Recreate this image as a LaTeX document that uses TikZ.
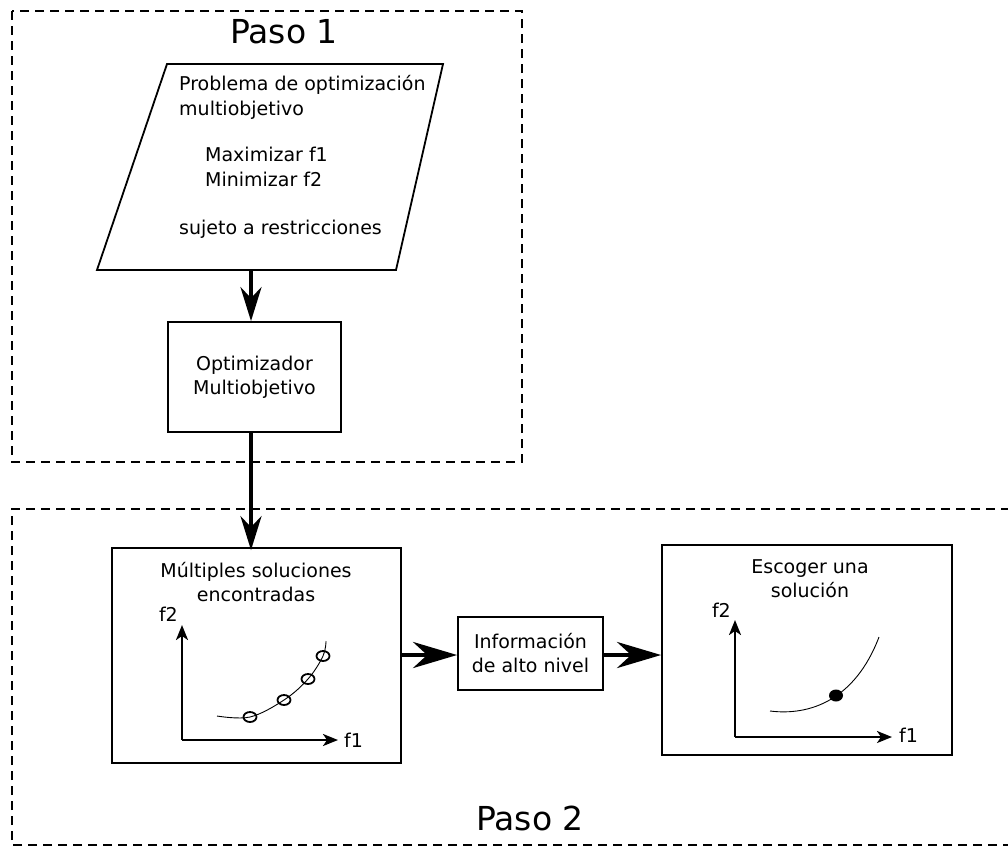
\documentclass[tikz,border=0pt]{standalone}
\usepackage{fontspec}
\setmainfont{DejaVu Sans}
\usetikzlibrary{arrows.meta}

\tikzset{
  stage/.style={draw, line width=1.6pt, dash pattern=on 9pt off 6pt},
  block/.style={draw, line width=1.8pt, inner sep=0pt},
  txt/.style={font=\fontsize{19}{24}\selectfont, inner sep=0pt},
  title/.style={font=\fontsize{33}{38}\selectfont, inner sep=0pt},
  flow/.style={line width=4pt, -{Stealth[length=34pt,width=21pt,inset=11pt]}},
  fat/.style={line width=4.5pt, -{Stealth[length=44pt,width=26pt,inset=14pt]}},
  axis/.style={line width=2.3pt, -{Stealth[length=15pt,width=12pt,inset=4pt]}},
  curve/.style={line width=0.9pt},
}

\begin{document}
\begin{tikzpicture}[x=1pt, y=-1pt]
\useasboundingbox (0,0) rectangle (1008,846);

% --- stage frames ---------------------------------------------------
\draw[stage] (12,11) rectangle (522,462);
\draw[stage] (1012,845) -- (12,845) -- (12,509) -- (1012,509);
\node[title] (paso1) at (284,32) {Paso 1};
\node[title] (paso2) at (530,818) {Paso 2};

% --- problem statement (input parallelogram) ------------------------
\coordinate (ptl) at (167,64);
\coordinate (ptr) at (443,64);
\coordinate (pbr) at (396,270);
\coordinate (pbl) at (97,270);
\coordinate (pbot) at (251,270);
\draw[line width=1.8pt, line join=miter] (ptl) -- (ptr) -- (pbr) -- (pbl) -- cycle;
\node[txt, anchor=base west] (l1) at (179,90)  {Problema de optimización};
\node[txt, anchor=base west] (l2) at (179,115) {multiobjetivo};
\node[txt, anchor=base west] (l3) at (205,161) {Maximizar f1};
\node[txt, anchor=base west] (l4) at (205,186) {Minimizar f2};
\node[txt, anchor=base west] (l5) at (179,234) {sujeto a restricciones};

% --- optimiser ------------------------------------------------------
\node[block, txt, align=center, minimum width=173pt, minimum height=110pt]
  (opt) at (254.5,377) {Optimizador\\Multiobjetivo};

% --- step 2 blocks --------------------------------------------------
\node[block, minimum width=289pt, minimum height=215pt] (sol) at (256.5,655.5) {};
\node[txt, align=center] (soltxt) at (256,582) {Múltiples soluciones\\encontradas};

\node[block, txt, align=center, minimum width=145pt, minimum height=73pt]
  (info) at (530.5,653.5) {Información\\de alto nivel};

\node[block, minimum width=290pt, minimum height=210pt] (pick) at (807,650) {};
\node[txt, align=center] (picktxt) at (810,579) {Escoger una\\solución};

% --- flow arrows ----------------------------------------------------
\draw[flow] (pbot) -- (pbot |- opt.north);
\draw[flow] (opt.south -| pbot) -- ([yshift=-3pt]pbot |- sol.north);
\draw[fat] (sol.east |- 0,655) -- (info.west |- 0,655);
\draw[fat] (info.east |- 0,655) -- (pick.west |- 0,655);

% --- front with several solutions -----------------------------------
\coordinate (o1) at (182,740);
\coordinate (y1) at (182,625);
\coordinate (x1) at (338,740);
\draw[axis] (o1) -- (y1);
\draw[axis] (o1) -- (x1);
\node[txt, anchor=base east] (f2a) at (178,621) {f2};
\node[txt, anchor=west] (f1a) at (344,740) {f1};
\draw[curve] plot[smooth, tension=0.6] coordinates
  {(217,716) (250,717) (284,700) (308,679) (323,656) (326,641)};
\foreach \p in {(250,717),(284,700),(308,679),(323,656)}
  \draw[line width=1.8pt] \p ellipse[x radius=6.5pt, y radius=5pt];

% --- chosen solution ------------------------------------------------
\coordinate (o2) at (735,737);
\coordinate (y2) at (735,620);
\coordinate (x2) at (892,737);
\draw[axis] (o2) -- (y2);
\draw[axis] (o2) -- (x2);
\node[txt, anchor=base east] (f2b) at (731,617) {f2};
\node[txt, anchor=west] (f1b) at (899,735) {f1};
\coordinate (c0) at (770,711);
\coordinate (c1) at (879,637);
\draw[curve] (c0) .. controls (810,716) and (855,700) .. (c1);
\fill (836,695.5) ellipse[x radius=7pt, y radius=6pt];
\end{tikzpicture}
\end{document}
